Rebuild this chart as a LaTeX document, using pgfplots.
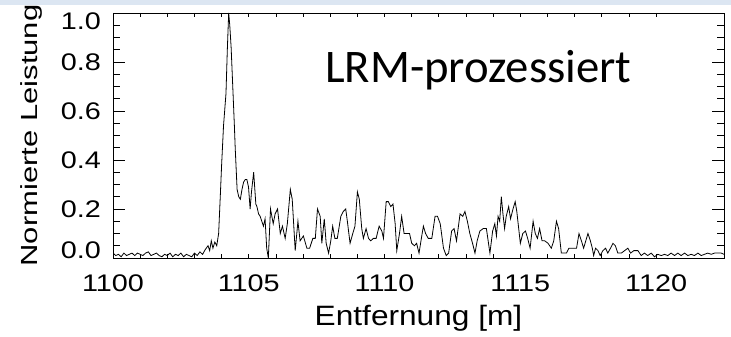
\documentclass[border=0pt]{standalone}
\usepackage{fontspec}
\usepackage{pgfplots}
\pgfplotsset{compat=1.18}
\newfontfamily\idl[FakeStretch=1.2]{Liberation Sans}
\newfontfamily\idlx[FakeStretch=1.13]{Liberation Sans}
\newfontfamily\idly[FakeStretch=1.33]{Liberation Sans}
\newfontfamily\calfont{Carlito}
\definecolor{band}{HTML}{DCE6F2}
\pgfplotsset{
  common/.style={
    at={(113pt,79pt)}, anchor=south west,
    scale only axis, width=611pt, height=245pt,
    xmin=1100, xmax=1122.5, ymin=0, ymax=1,
    axis line style={line width=0.9pt},
    tick align=inside,
    every tick/.style={line width=0.8pt, black},
    every minor tick/.style={line width=0.8pt, black},
  }
}
\begin{document}
\begin{tikzpicture}
\path[use as bounding box] (0pt,0pt) rectangle (731pt,337pt);
\fill[band] (0pt,332pt) rectangle (731pt,337pt);
% x ticks, x labels
\begin{axis}[common,
  major tick length=4pt, minor tick length=4pt,
  ytick=\empty,
  xtick={1100,1105,1110,1115,1120},
  xticklabels={1100,1105,1110,1115,1120},
  minor x tick num=4,
  xticklabel style={font=\fontsize{24}{24}\idl, inner sep=0pt, anchor=north, yshift=-17pt},
  xlabel={Entfernung [m]},
  every axis x label/.style={at={(axis description cs:0.5,-0.2735)}, anchor=base, inner sep=0pt, font=\fontsize{28}{28}\idlx},
]
\end{axis}
% y ticks, y labels, data
\begin{axis}[common,
  major tick length=12pt, minor tick length=7pt,
  xtick=\empty,
  ytick={0,0.2,0.4,0.6,0.8,1.0},
  yticklabels={\raisebox{8pt}[\height][\depth]{0.0},0.2,0.4,0.6,0.8,\raisebox{-8.7pt}[\height][\depth]{1.0}},
  minor y tick num=3,
  yticklabel style={font=\fontsize{24}{24}\idl, inner sep=0pt, anchor=east, xshift=-12pt},
  ylabel={Normierte Leistung},
  every axis y label/.style={at={(axis description cs:-0.1239,0.5)}, rotate=90, anchor=base, inner sep=0pt, font=\fontsize{23.3}{24}\idly},
]
\addplot[black, line width=0.8pt] coordinates {
(1100.0,0.02) (1100.1,0.01) (1100.2,0.015) (1100.3,0.005) (1100.4,0.02) (1100.5,0.01)
(1100.6,0.015) (1100.7,0.02) (1100.8,0.01) (1100.9,0.02) (1101.0,0.015) (1101.1,0.01)
(1101.2,0.02) (1101.3,0.025) (1101.4,0.01) (1101.5,0.015) (1101.6,0.02) (1101.7,0.01)
(1101.8,0.005) (1101.9,0.015) (1102.0,0.01) (1102.1,0.02) (1102.2,0.005) (1102.3,0.015)
(1102.4,0.01) (1102.5,0.02) (1102.6,0.005) (1102.7,0.015) (1102.8,0.01) (1102.9,0.005)
(1103.0,0.02) (1103.1,0.01) (1103.2,0.025) (1103.3,0.015) (1103.4,0.035) (1103.5,0.05)
(1103.56,0.03) (1103.62,0.07) (1103.68,0.04) (1103.75,0.065) (1103.82,0.05) (1103.89,0.1)
(1103.95,0.25) (1104.0,0.38) (1104.07,0.54) (1104.16,0.67) (1104.21,0.85) (1104.26,1.0)
(1104.3,0.95) (1104.35,0.86) (1104.41,0.7) (1104.47,0.54) (1104.5,0.45) (1104.57,0.28)
(1104.63,0.25) (1104.69,0.24) (1104.75,0.28) (1104.81,0.31) (1104.87,0.32) (1104.93,0.32)
(1104.99,0.29) (1105.05,0.2) (1105.1,0.27) (1105.18,0.35) (1105.26,0.22) (1105.3,0.21)
(1105.36,0.18) (1105.42,0.17) (1105.48,0.15) (1105.54,0.13) (1105.6,0.16) (1105.66,0.04)
(1105.72,0.0) (1105.8,0.2) (1105.9,0.14) (1105.97,0.18) (1106.06,0.2) (1106.16,0.1)
(1106.24,0.13) (1106.34,0.08) (1106.42,0.14) (1106.53,0.28) (1106.6,0.24) (1106.71,0.03)
(1106.81,0.15) (1106.89,0.07) (1107.01,0.09) (1107.14,0.04) (1107.24,0.04) (1107.36,0.08)
(1107.45,0.08) (1107.53,0.2) (1107.63,0.17) (1107.69,0.06) (1107.78,0.16) (1107.85,0.06)
(1107.94,0.02) (1108.02,0.07) (1108.09,0.13) (1108.17,0.08) (1108.26,0.08) (1108.39,0.17)
(1108.48,0.19) (1108.57,0.2) (1108.63,0.15) (1108.73,0.06) (1108.83,0.1) (1108.91,0.13)
(1109.0,0.27) (1109.07,0.24) (1109.16,0.12) (1109.22,0.08) (1109.32,0.12) (1109.41,0.08)
(1109.49,0.07) (1109.59,0.08) (1109.69,0.08) (1109.8,0.13) (1109.9,0.11) (1109.96,0.08)
(1110.06,0.23) (1110.14,0.23) (1110.23,0.21) (1110.31,0.22) (1110.39,0.14) (1110.45,0.03)
(1110.55,0.1) (1110.63,0.17) (1110.72,0.1) (1110.82,0.1) (1110.92,0.1) (1111.0,0.06)
(1111.1,0.05) (1111.18,0.06) (1111.27,0.02) (1111.37,0.09) (1111.43,0.13) (1111.51,0.1)
(1111.61,0.08) (1111.74,0.08) (1111.86,0.17) (1111.95,0.17) (1112.05,0.14) (1112.17,0.04)
(1112.27,0.01) (1112.36,0.02) (1112.47,0.11) (1112.56,0.12) (1112.65,0.07) (1112.78,0.18)
(1112.88,0.17) (1112.96,0.19) (1113.05,0.15) (1113.14,0.1) (1113.24,0.06) (1113.33,0.02)
(1113.41,0.07) (1113.51,0.11) (1113.63,0.12) (1113.75,0.12) (1113.88,0.02) (1113.98,0.11)
(1114.06,0.14) (1114.12,0.09) (1114.18,0.17) (1114.24,0.15) (1114.3,0.25) (1114.36,0.18)
(1114.42,0.12) (1114.48,0.17) (1114.57,0.21) (1114.64,0.16) (1114.73,0.2) (1114.81,0.23)
(1114.87,0.19) (1114.94,0.12) (1115.0,0.06) (1115.09,0.1) (1115.19,0.11) (1115.27,0.08)
(1115.36,0.04) (1115.47,0.15) (1115.55,0.1) (1115.63,0.08) (1115.71,0.12) (1115.8,0.07)
(1115.9,0.07) (1116.02,0.06) (1116.14,0.04) (1116.23,0.07) (1116.33,0.15) (1116.41,0.12)
(1116.51,0.02) (1116.6,0.02) (1116.7,0.02) (1116.79,0.04) (1116.88,0.04) (1116.97,0.04)
(1117.07,0.04) (1117.16,0.1) (1117.25,0.07) (1117.33,0.04) (1117.41,0.07) (1117.49,0.1)
(1117.58,0.07) (1117.65,0.04) (1117.7,0.01) (1117.77,0.04) (1117.86,0.03) (1117.94,0.01)
(1118.04,0.03) (1118.14,0.04) (1118.22,0.02) (1118.32,0.04) (1118.41,0.06) (1118.5,0.05)
(1118.59,0.02) (1118.72,0.02) (1118.84,0.03) (1118.96,0.04) (1119.06,0.02) (1119.18,0.03)
(1119.33,0.03) (1119.45,0.01) (1119.57,0.02) (1119.69,0.01) (1119.82,0.02) (1119.94,0.005)
(1120.06,0.015) (1120.19,0.01) (1120.31,0.015) (1120.43,0.01) (1120.55,0.02) (1120.68,0.01)
(1120.8,0.02) (1120.92,0.01) (1121.05,0.02) (1121.17,0.01) (1121.29,0.015) (1121.41,0.01)
(1121.54,0.02) (1121.66,0.01) (1121.78,0.015) (1121.9,0.02) (1122.03,0.015) (1122.15,0.02)
(1122.27,0.02) (1122.4,0.02) (1122.5,0.015)
};
\end{axis}
\node[anchor=base west, inner sep=0pt, font=\fontsize{46.7}{47}\calfont] at (325pt,254pt) {LRM-prozessiert};
\end{tikzpicture}
\end{document}
